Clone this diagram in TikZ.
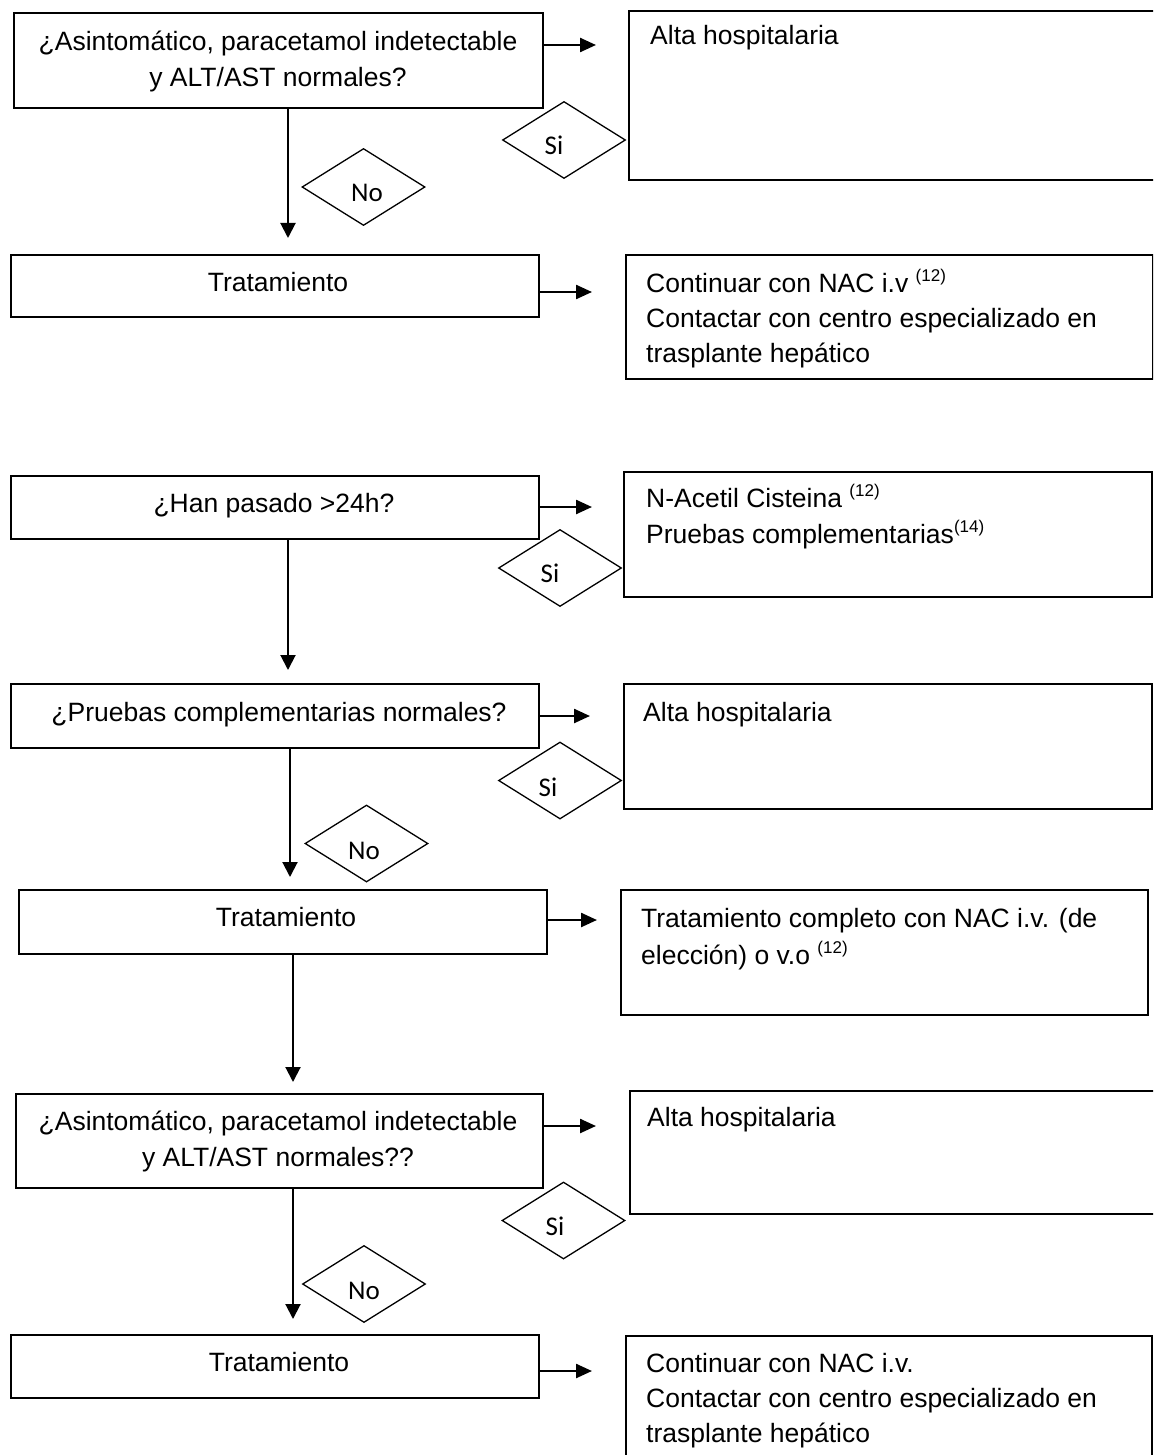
\documentclass[tikz,border=0pt]{standalone}
\usepackage{fontspec}
\setmainfont{Liberation Sans}
\newfontfamily\calib{Carlito}
\usetikzlibrary{shapes.geometric,arrows.meta}
\newcommand\sref[1]{\raisebox{11pt}{\fontsize{17}{17}\selectfont(#1)}}
\begin{document}
\begin{tikzpicture}[x=1pt,y=-1pt,
  box/.style={draw, line width=1.6pt, inner sep=0pt, anchor=north west},
  dia/.style={draw, diamond, line width=1.3pt, inner sep=0pt, minimum width=123pt, minimum height=77pt},
  txt/.style={inner sep=0pt, font=\fontsize{26.5}{35.5}\selectfont},
  lbl/.style={inner sep=0pt, anchor=base, font=\calib\fontsize{27}{30}\selectfont},
  harrow/.style={line width=2.4pt, -{Triangle[length=16pt,width=14pt]}},
  varrow/.style={line width=2pt, -{Triangle[length=15pt,width=15pt]}},
]
\useasboundingbox (0,0) rectangle (1153,1455);
\fill[white] (0,0) rectangle (1153,1455);
\clip (0,0) rectangle (1153,1455);

% ---------- boxes ----------
\node[box, minimum width=529pt, minimum height=95pt]  (q1) at (13,12) {};
\node[box, minimum width=560pt, minimum height=169pt] (r1) at (628,10) {};
\node[box, minimum width=528pt, minimum height=62pt]  (t1) at (10,254) {};
\node[box, minimum width=527pt, minimum height=124pt] (r2) at (625,254) {};

\node[box, minimum width=528pt, minimum height=63pt]  (q2) at (10,475) {};
\node[box, minimum width=528pt, minimum height=125pt] (r3) at (623,471) {};
\node[box, minimum width=528pt, minimum height=64pt]  (q3) at (10,683) {};
\node[box, minimum width=528pt, minimum height=125pt] (r4) at (623,683) {};
\node[box, minimum width=528pt, minimum height=64pt]  (t2) at (18,889) {};
\node[box, minimum width=527pt, minimum height=125pt] (r5) at (620,889) {};
\node[box, minimum width=527pt, minimum height=94pt]  (q4) at (15,1093) {};
\node[box, minimum width=560pt, minimum height=123pt] (r6) at (629,1090) {};
\node[box, minimum width=528pt, minimum height=63pt]  (t3) at (10,1334) {};
\node[box, minimum width=526pt, minimum height=160pt] (r7) at (625,1335) {};

% ---------- diamonds ----------
\node[dia] (d1) at (564,140) {};
\node[dia] (d2) at (363.5,187) {};
\node[dia] (d3) at (560,568) {};
\node[dia] (d4) at (560,780.5) {};
\node[dia] (d5) at (366.5,843.5) {};
\node[dia] (d6) at (563.5,1220.5) {};
\node[dia] (d7) at (364,1284) {};

\node[lbl] (l1) at (554,154.5) {Si};
\node[lbl] (l2) at (367,202) {No};
\node[lbl] (l3) at (550,582) {Si};
\node[lbl] (l4) at (548,796) {Si};
\node[lbl] (l5) at (364,859) {No};
\node[lbl] (l6) at (555,1235.5) {Si};
\node[lbl] (l7) at (364,1299) {No};

% ---------- texts ----------
\node[txt, anchor=base] (q1a) at (278,50.5) {¿Asintomático, paracetamol indetectable};
\node[txt, anchor=base] (q1b) at (278,86.5) {y ALT/AST normales?};
\node[txt, anchor=base west] (r1a) at (650,44.5) {Alta hospitalaria};
\node[txt, anchor=base] (t1a) at (278,291.5) {Tratamiento};
\node[txt, anchor=base west] (r2a) at (646,292.5) {Continuar con NAC i.v \sref{12}};
\node[txt, anchor=base west] (r2b) at (646,327.5) {Contactar con centro especializado en};
\node[txt, anchor=base west] (r2c) at (646,362.5) {trasplante hepático};

\node[txt, anchor=base] (q2a) at (274,512.5) {¿Han pasado >24h?};
\node[txt, anchor=base west] (r3a) at (646,507.5) {N-Acetil Cisteina \sref{12}};
\node[txt, anchor=base west] (r3b) at (646,543.5) {Pruebas complementarias\sref{14}};

\node[txt, anchor=base] (q3a) at (279,721.5) {¿Pruebas complementarias normales?};
\node[txt, anchor=base west] (r4a) at (643,721.5) {Alta hospitalaria};

\node[txt, anchor=base] (t2a) at (286,926.5) {Tratamiento};
\node[txt, anchor=base west] (r5a) at (641,927.5) {Tratamiento completo con NAC i.v. (de};
\node[txt, anchor=base west] (r5b) at (641,964) {elección) o v.o \sref{12}};

\node[txt, anchor=base] (q4a) at (278,1130.5) {¿Asintomático, paracetamol indetectable};
\node[txt, anchor=base] (q4b) at (278,1166.5) {y ALT/AST normales??};
\node[txt, anchor=base west] (r6a) at (647,1126.5) {Alta hospitalaria};

\node[txt, anchor=base] (t3a) at (279,1371.5) {Tratamiento};
\node[txt, anchor=base west] (r7a) at (646,1372.5) {Continuar con NAC i.v.};
\node[txt, anchor=base west] (r7b) at (646,1407.5) {Contactar con centro especializado en};
\node[txt, anchor=base west] (r7c) at (646,1442.5) {trasplante hepático};

% ---------- horizontal arrows ----------
\coordinate (h1) at (596,45);
\coordinate (h2) at (592,292);
\coordinate (h3) at (592,507);
\coordinate (h4) at (590,716);
\coordinate (h5) at (597,920);
\coordinate (h6) at (596,1126);
\coordinate (h7) at (592,1371);
\draw[harrow] (q1.east |- h1) -- (h1);
\draw[harrow] (t1.east |- h2) -- (h2);
\draw[harrow] (q2.east |- h3) -- (h3);
\draw[harrow] (q3.east |- h4) -- (h4);
\draw[harrow] (t2.east |- h5) -- (h5);
\draw[harrow] (q4.east |- h6) -- (h6);
\draw[harrow] (t3.east |- h7) -- (h7);

% ---------- vertical arrows ----------
\coordinate (v1) at (288,238);
\coordinate (v2) at (288,670);
\coordinate (v3) at (290,877);
\coordinate (v4) at (293,1082);
\coordinate (v5) at (293,1319);
\draw[varrow] (q1.south -| v1) -- (v1);
\draw[varrow] (q2.south -| v2) -- (v2);
\draw[varrow] (q3.south -| v3) -- (v3);
\draw[varrow] (t2.south -| v4) -- (v4);
\draw[varrow] (q4.south -| v5) -- (v5);
\end{tikzpicture}
\end{document}
